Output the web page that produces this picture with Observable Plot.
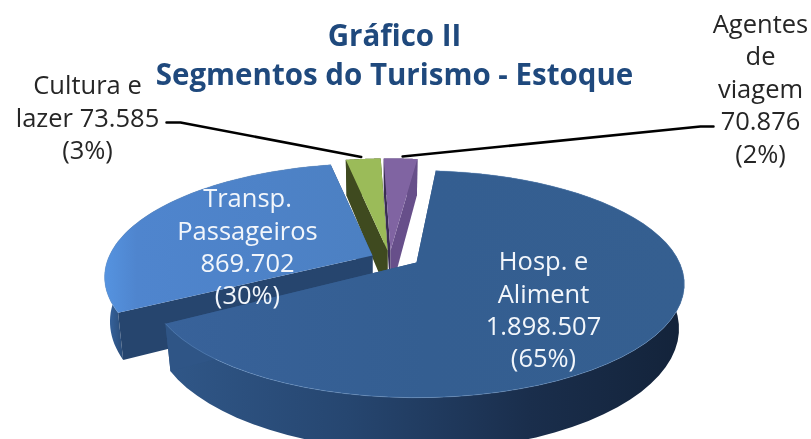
<!DOCTYPE html>
<html><head><meta charset="utf-8">
<script src="https://cdn.jsdelivr.net/npm/d3@7"></script>
<script src="https://cdn.jsdelivr.net/npm/@observablehq/plot@0.6"></script>
<style>html,body{margin:0;padding:0;background:#fff}svg{display:block;filter:blur(.4px)}</style>
</head><body><div id="c"></div>
<script>
const categories = ["Hosp. e\nAliment", "Transp.\nPassageiros", "Cultura e\nlazer", "Agentes\nde\nviagem"];
const values = [1898507, 869702, 73585, 70876];
const titleLines = ["Gráfico II", "Segmentos do Turismo - Estoque"];

// layout of the exploded 3D pie (one apex per slice), drawing order is back to front
const apex = [[416, 262], [372, 255], [387, 250], [390, 250]];
const turn = [-2, 0, 0, 0];
const topFill = ["url(#hospTop)", "url(#transpTop)", "#9bbb59", "#8064a2"];
const rimFill = ["url(#hospWall)", "url(#transpWall)", "#3f4a1f", "#5b4578"];
const leftWall = ["#2f5586", "#26456e", "#3f4a1f", "#3a2d55"];
const rightWall = ["#2f5586", "#26456e", "#3f4a1f", "#674f8a"];
const labelPos = [[543, 308], [247, 245], [87, 116], [760, 87]];
const labelColor = ["#f2f6fb", "#f2f6fb", "#262626", "#262626"];
const leaderEnd = [null, null, [[166, 122], [180, 122]], [[713, 126], [700, 126]]];
const startDeg = 7, K = 0.19, RX = 263, RY = 109.5, DEPTH = 43, SHRINK = 0.02;

const br = d3.formatLocale({decimal: ",", thousands: ".", grouping: [3], currency: ["R$", ""]}).format(",d");
const total = d3.sum(values);
const shares = values.map(v => v / total);
let acc = startDeg;
const slices = values.map((v, i) => {
  const a0 = acc + turn[i], a1 = acc + turn[i] + shares[i] * 360; acc += shares[i] * 360;
  return {i, a0, a1};
});
const project = (i, deg, depth = 0) => {
  const t = deg * Math.PI / 180, X = Math.sin(t), Y = Math.cos(t), s = 1 / (1 + K * Y);
  const shrink = depth ? 1 - SHRINK : 1;
  return [apex[i][0] + RX * X * s * shrink, apex[i][1] - RY * Y * s + depth * s];
};
const arc = (i, a, b, depth) => d3.range(0, 61).map(k => project(i, a + (b - a) * k / 60, depth));
const polys = [];
const add = (pts, fill) => polys.push({fill, pts});
for (const i of [3, 2, 1, 0]) {
  const {a0, a1} = slices[i];
  const base = apex[i];
  const baseLow = [base[0], base[1] + DEPTH];
  add([...arc(i, a0, a1, 0), ...arc(i, a0, a1, DEPTH).reverse()], rimFill[i]);
  add([base, project(i, a0), project(i, a0, DEPTH), baseLow], leftWall[i]);
  add([base, project(i, a1), project(i, a1, DEPTH), baseLow], rightWall[i]);
  add([base, ...arc(i, a0, a1, 0)], topFill[i]);
}
const rimEdge = [0, 1].flatMap(i => {
  const {a0, a1} = slices[i];
  return arc(i, a0, a1, 0).map(([x, y]) => ({x, y, i}));
});
const leaders = [2, 3].flatMap(i => {
  const mid = project(i, (slices[i].a0 + slices[i].a1) / 2);
  return [...leaderEnd[i].map(([x, y]) => ({x, y, i})), {x: mid[0] + (i === 2 ? -2 : 2), y: mid[1] - 2, i}];
});
const labels = values.map((v, i) => {
  const pct = "(" + Math.round(shares[i] * 100) + "%)";
  const text = categories[i] + (i === 2 ? " " : "\n") + br(v) + "\n" + pct;
  return {text, x: labelPos[i][0], y: labelPos[i][1], color: labelColor[i]};
});
const titles = titleLines.map((t, i) => ({t, x: 394, y: [36, 75][i]}));

const defs = () => {
  const d = d3.create("svg:defs");
  const grad = (id, stops) => {
    const g = d.append("linearGradient").attr("id", id).attr("x1", "0%").attr("y1", "0%").attr("x2", "100%").attr("y2", "0%");
    stops.forEach(([o, c]) => g.append("stop").attr("offset", o).attr("stop-color", c));
  };
  grad("hospTop", [["0%", "#38629a"], ["50%", "#345e91"], ["100%", "#355f90"]]);
  grad("transpTop", [["0%", "#5593e0"], ["12%", "#4f85ce"], ["100%", "#4c80c2"]]);
  grad("transpWall", [["0%", "#3a6aa8"], ["8%", "#2a4c78"], ["100%", "#26456e"]]);
  grad("hospWall", [["0%", "#305788"], ["35%", "#264670"], ["70%", "#1a2e4c"], ["100%", "#13233a"]]);
  return d.node();
};

const chart = Plot.plot({
  width: 811, height: 439, margin: 0,
  x: {domain: [0, 811], range: [0, 811], axis: null},
  y: {domain: [0, 439], range: [0, 439], axis: null},
  marks: [
    defs,
    ...polys.map(p => Plot.line(p.pts, {x: d => d[0], y: d => d[1], fill: p.fill, stroke: "none"})),
    Plot.line(rimEdge, {x: "x", y: "y", z: "i", stroke: "#6d9ad0", strokeWidth: 1, strokeOpacity: 0.4}),
    Plot.line(leaders, {x: "x", y: "y", z: "i", stroke: "#000", strokeWidth: 2.5}),
    Plot.text(titles, {x: "x", y: "y", text: "t", fill: "#1f497d", fontWeight: 700, fontSize: 29.5, fontFamily: "Open Sans"}),
    Plot.text(labels, {x: "x", y: "y", text: "text", fill: "color", fontSize: 25.5, lineHeight: 1.27, fontFamily: "Open Sans"})
  ]
});
document.getElementById("c").append(chart);
</script></body></html>
